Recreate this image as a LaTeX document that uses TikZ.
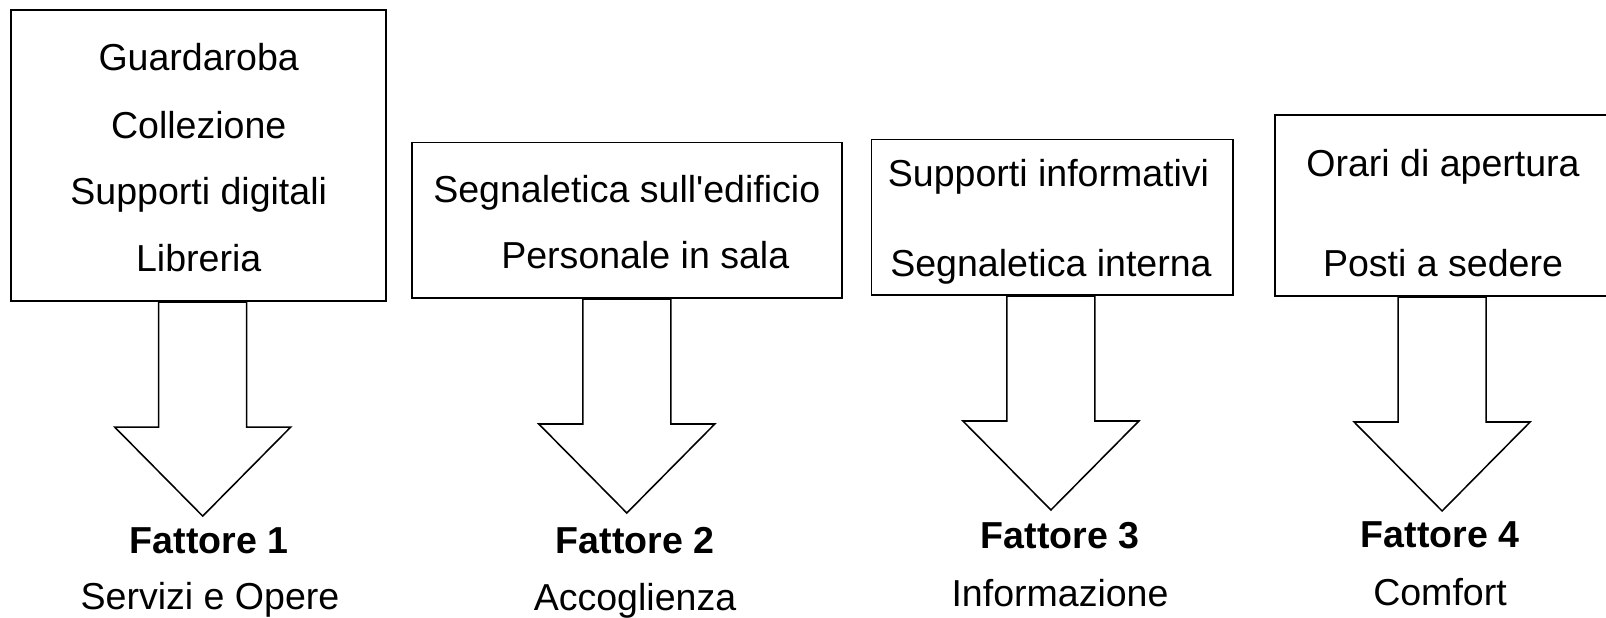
\documentclass[tikz,border=0pt]{standalone}
\usepackage{fontspec}
\setmainfont{Liberation Sans}
\usepackage{tikz}
\usetikzlibrary{calc}

\tikzset{
  panel/.style={draw, line width=1.2pt, inner sep=0pt, outer sep=0pt},
  item/.style={font=\fontsize{26.7}{30}\selectfont, anchor=base, inner sep=0pt},
  factor/.style={item, font=\fontsize{26.7}{30}\selectfont\bfseries},
  bigarrow/.style={draw, fill=white, line width=1.1pt, line join=miter}
}

\begin{document}
\begin{tikzpicture}[x=0.25mm, y=-0.25mm]
\useasboundingbox (0,0) rectangle (1606,618);
\clip (0,0) rectangle (1606,618);

% the four groups of items
\node[panel, minimum width=93.7mm, minimum height=72.7mm] (box1) at (198.7,155.7) {};
\node[panel, minimum width=107.55mm, minimum height=38.9mm] (box2) at (626.8,220.2) {};
\node[panel, minimum width=90.4mm, minimum height=38.9mm] (box3) at (1052.4,217.2) {};
\node[panel, minimum width=83.45mm, minimum height=45.3mm] (box4) at (1442.1,205.4) {};

\node[item] (guard) at (198.7,70.7) {Guardaroba};
\node[item] (coll) at (198.7,138.5) {Collezione};
\node[item] (digit) at (198.7,205) {Supporti digitali};
\node[item] (libr) at (198.7,271.5) {Libreria};

\node[item] (segnext) at (626.8,202.5) {Segnaletica sull\textquotesingle edificio};
\node[item] (person) at (645.3,268.8) {Personale in sala};

\node[item] (inform) at (1048.5,187) {Supporti informativi};
\node[item] (segnint) at (1051,276.5) {Segnaletica interna};

\node[item] (orari) at (1443,177) {Orari di apertura};
\node[item] (posti) at (1443,276.5) {Posti a sedere};

% hollow arrows below each group
\foreach \i/\dx in {1/4,2/0,3/-1.5,4/0}{
  \draw[bigarrow, shift={($(box\i.south)+(\dx,1)$)}]
    (-44,0) -- (-44,125) -- (-88,125) -- (0,214) -- (88,125) -- (44,125) -- (44,0) -- cycle;
}

% the factors
\node[factor] (fat1) at (209,553.5) {Fattore 1};
\node[item] (sub1) at (210,609.5) {Servizi e Opere};
\node[factor] (fat2) at (635,553) {Fattore 2};
\node[item] (sub2) at (635,610) {Accoglienza};
\node[factor] (fat3) at (1060,548) {Fattore 3};
\node[item] (sub3) at (1060,606) {Informazione};
\node[factor] (fat4) at (1440,547) {Fattore 4};
\node[item] (sub4) at (1440,605) {Comfort};
\end{tikzpicture}
\end{document}
